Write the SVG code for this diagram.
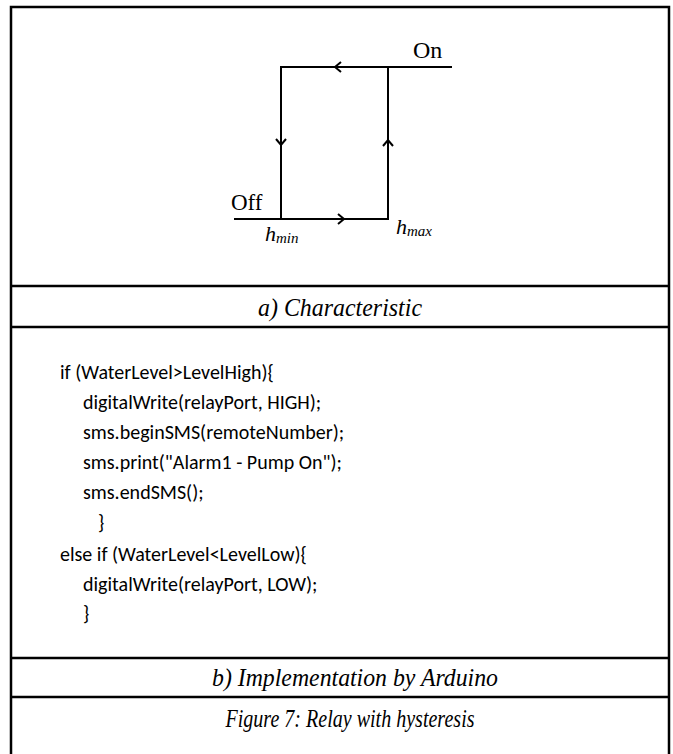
<svg xmlns="http://www.w3.org/2000/svg" width="673" height="754" viewBox="0 0 673 754">
<style>
.frame{fill:none;stroke:#000;stroke-width:2.5}
.rule{stroke:#000;stroke-width:2.5}
.curve{fill:none;stroke:#000;stroke-width:2;stroke-linejoin:miter}
.head{fill:none;stroke:#000;stroke-width:2}
.lbl{font-family:"Liberation Serif","Times New Roman",serif;fill:#000}
.sym{font-family:"Liberation Serif","Times New Roman",serif;font-style:italic;fill:#000}
.cap{font-family:"Liberation Serif","Times New Roman",serif;font-style:italic;font-size:26px;fill:#000;text-anchor:middle}
.code{font-family:Carlito,Lato,"Liberation Sans",sans-serif;font-size:20px;fill:#000}
</style>
<rect width="673" height="754" fill="#fff"/>
<g id="table">
<polyline class="frame" points="11,760 11,7 669,7 669,760"/>
<line class="rule" x1="11" y1="286" x2="669" y2="286"/>
<line class="rule" x1="11" y1="327" x2="669" y2="327"/>
<line class="rule" x1="11" y1="658" x2="669" y2="658"/>
<line class="rule" x1="11" y1="697" x2="669" y2="697"/>
</g>
<g id="connectors">
<polyline class="curve" points="452,67 281,67 281,219"/>
<polyline class="curve" points="234,219 388,219 388,67"/>
<polyline class="head" points="341,62 335,67 341,72"/>
<polyline class="head" points="276,139 281,145 286,139"/>
<polyline class="head" points="383,146 388,140 393,146"/>
<polyline class="head" points="338,214 344,219 338,224"/>
</g>
<g id="label-on"><text class="lbl" x="413" y="58" font-size="24">On</text></g>
<g id="label-off"><text class="lbl" x="231" y="210" font-size="23">Off</text></g>
<g id="label-hmin"><text class="sym" x="265" y="241" font-size="22">h<tspan font-size="15" dy="2">min</tspan></text></g>
<g id="label-hmax"><text class="sym" x="396" y="234" font-size="22">h<tspan font-size="15" dy="2">max</tspan></text></g>
<g id="caption-a"><text class="cap" x="340" y="316" textLength="164" lengthAdjust="spacingAndGlyphs">a) Characteristic</text></g>
<g id="code">
<text class="code" x="60" y="379">if (WaterLevel&gt;LevelHigh){</text>
<text class="code" x="83" y="409">digitalWrite(relayPort, HIGH);</text>
<text class="code" x="83" y="439">sms.beginSMS(remoteNumber);</text>
<text class="code" x="83" y="469">sms.print("Alarm1 - Pump On");</text>
<text class="code" x="83" y="499">sms.endSMS();</text>
<text class="code" x="98" y="529">}</text>
<text class="code" x="60" y="561">else if (WaterLevel&lt;LevelLow){</text>
<text class="code" x="83" y="591">digitalWrite(relayPort, LOW);</text>
<text class="code" x="83" y="620">}</text>
</g>
<g id="caption-b"><text class="cap" x="355" y="686" textLength="286" lengthAdjust="spacingAndGlyphs">b) Implementation by Arduino</text></g>
<g id="caption-fig"><text class="cap" x="350" y="727" textLength="249" lengthAdjust="spacingAndGlyphs">Figure 7: Relay with hysteresis</text></g>
</svg>
